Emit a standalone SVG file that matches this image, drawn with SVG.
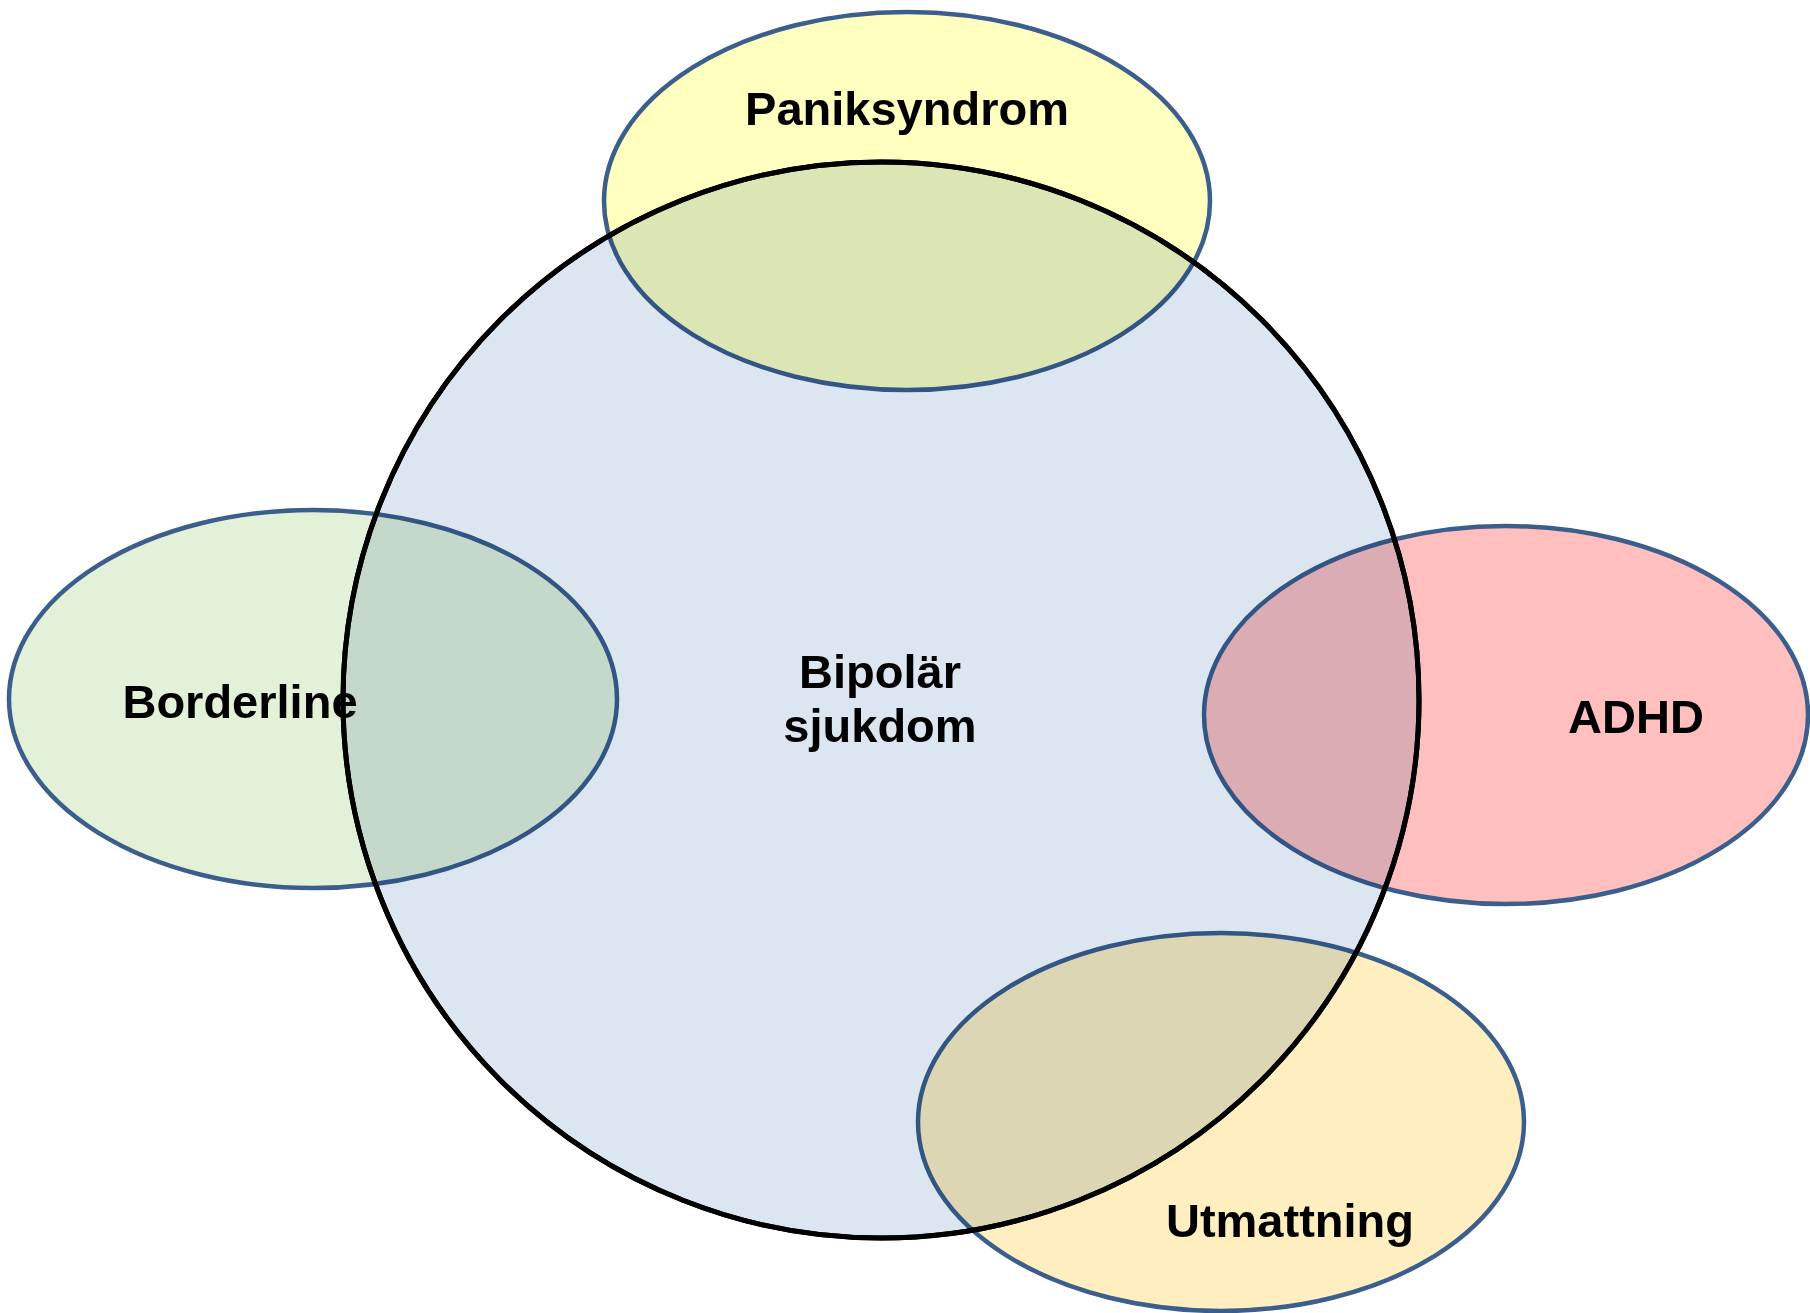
<svg xmlns="http://www.w3.org/2000/svg" width="1810" height="1313" viewBox="0 0 1810 1313">
  <style>
    .label { font-family: "Liberation Sans", Arial, sans-serif; font-weight: bold; font-size: 47px; fill: #000; text-anchor: middle; }
    .set { stroke: #3B5E8C; stroke-width: 4.5; mix-blend-mode: multiply; }
    .core { fill: #DCE6F1; stroke: #000; stroke-width: 5; }
  </style>
  <rect width="1810" height="1313" fill="#FFFFFF"/>

  <!-- central set -->
  <g id="bipolar">
    <circle class="core" cx="881" cy="700" r="538"/>
    <text class="label" font-size="48" x="880" y="688">Bipolär</text>
    <text class="label" font-size="48" x="880" y="742">sjukdom</text>
  </g>

  <!-- overlapping sets -->
  <g id="paniksyndrom">
    <ellipse class="set" cx="907" cy="201" rx="303" ry="189" fill="#FFFFC0"/>
    <text class="label" x="907" y="125">Paniksyndrom</text>
  </g>
  <g id="borderline">
    <ellipse class="set" cx="313" cy="699" rx="304" ry="189" fill="#E3F1D8"/>
    <text class="label" font-size="48" x="240" y="718">Borderline</text>
  </g>
  <g id="adhd">
    <ellipse class="set" cx="1506" cy="715" rx="302" ry="189" fill="#FFBFBF"/>
    <text class="label" x="1636" y="733">ADHD</text>
  </g>
  <g id="utmattning">
    <ellipse class="set" cx="1221" cy="1122" rx="303" ry="189" fill="#FFEEC0"/>
    <text class="label" x="1290" y="1237">Utmattning</text>
  </g>

  <!-- outline of the central set kept on top -->
  <g id="connectors">
    <circle cx="881" cy="700" r="538" fill="none" stroke="#000" stroke-width="5"/>
  </g>
</svg>
